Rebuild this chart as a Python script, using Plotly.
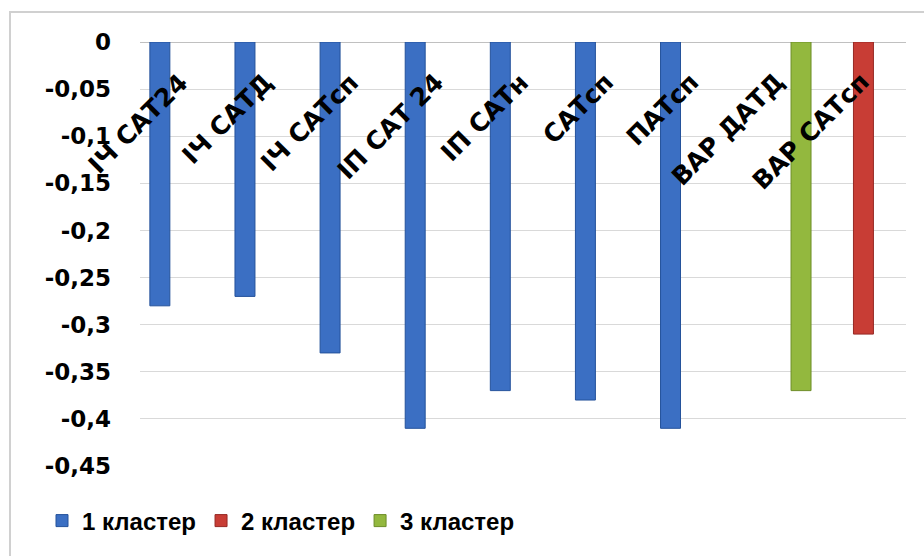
import plotly.graph_objects as go

categories = ["ІЧ САТ24", "ІЧ САТД", "ІЧ САТсп", "ІП САТ 24", "ІП САТн",
              "САТсп", "ПАТсп", "ВАР ДАТД", "ВАР САТсп"]
cluster1 = [-0.28, -0.27, -0.33, -0.41, -0.37, -0.38, -0.41, None, None]
cluster2 = [None, None, None, None, None, None, None, None, -0.31]
cluster3 = [None, None, None, None, None, None, None, -0.37, None]
series_names = ["1 кластер", "2 кластер", "3 кластер"]
y_ticks = [0, -0.05, -0.1, -0.15, -0.2, -0.25, -0.3, -0.35, -0.4, -0.45]
y_tick_labels = ["0", "-0,05", "-0,1", "-0,15", "-0,2", "-0,25", "-0,3", "-0,35", "-0,4", "-0,45"]

W, H = 924, 556
L, R, T, B = 140, 18, 42, 90
pw, ph = W - L - R, H - T - B

def px_x(p):
    return (p - L) / pw

def px_y(p):
    return (H - B - p) / ph

fig = go.Figure()
fig.add_trace(go.Bar(x=categories, y=cluster1, name="<b>%s</b>" % series_names[0],
                     marker=dict(color="#3b6fc3", line=dict(color="#24529b", width=1))))
fig.add_trace(go.Bar(x=categories, y=cluster2, name="<b>%s</b>" % series_names[1],
                     marker=dict(color="#c83d35", line=dict(color="#962824", width=1))))
fig.add_trace(go.Bar(x=categories, y=cluster3, name="<b>%s</b>" % series_names[2],
                     marker=dict(color="#93b83e", line=dict(color="#6d8d27", width=1))))

for c in categories:
    fig.add_annotation(x=c, y=0, xref="x", yref="y", text="<b>%s</b>" % c,
                       textangle=-45, showarrow=False, xanchor="right", yanchor="top",
                       xshift=14, yshift=-23,
                       font=dict(family="DejaVu Sans, sans-serif", size=25, color="#000"))

fig.add_shape(type="rect", xref="paper", yref="paper",
              x0=px_x(10), x1=px_x(935), y0=px_y(575), y1=px_y(12),
              line=dict(color="#d0d0d0", width=2), fillcolor="rgba(0,0,0,0)", layer="below")

fig.update_layout(
    width=W, height=H,
    margin=dict(l=L, r=R, t=T, b=B),
    paper_bgcolor="white", plot_bgcolor="white",
    barmode="group", bargap=0.2, bargroupgap=0.12,
    showlegend=True,
    legend=dict(orientation="h", x=px_x(42), xanchor="left", y=px_y(521), yanchor="middle",
                font=dict(family="Liberation Sans, Arial, sans-serif", size=24, color="#000"),
                itemwidth=30, tracegroupgap=0, bgcolor="rgba(0,0,0,0)"),
    xaxis=dict(showticklabels=False, showgrid=False, zeroline=False, showline=False,
               range=[-0.5, 8.5]),
    yaxis=dict(range=[-0.45, 0], tickvals=y_ticks, ticktext=["<b>%s</b>" % t for t in y_tick_labels],
               showgrid=True, gridcolor="#d9d9d9", gridwidth=1,
               zeroline=True, zerolinecolor="#c0c0c0", zerolinewidth=1,
               ticklabelstandoff=28,
               tickfont=dict(family="DejaVu Sans, sans-serif", size=23, color="#000")),
)

fig.write_html("out.html")
